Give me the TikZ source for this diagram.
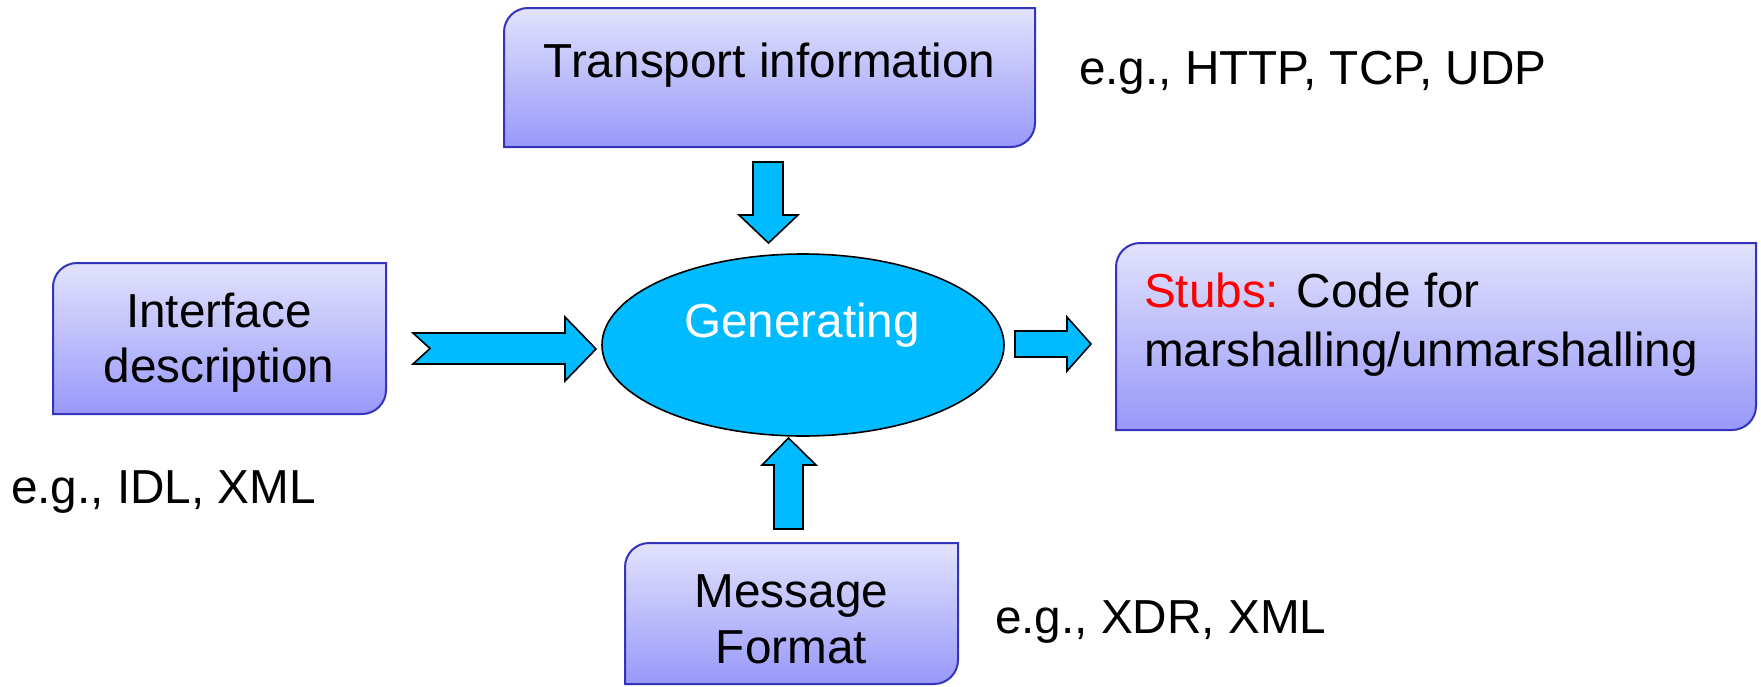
\documentclass[tikz,border=0pt]{standalone}
\usepackage{fontspec}
\setmainfont{Liberation Sans}
\usetikzlibrary{shapes.geometric}
\definecolor{boxtop}{RGB}{226,226,252}
\definecolor{boxbot}{RGB}{152,152,250}
\definecolor{boxline}{RGB}{51,51,187}
\definecolor{arrowfill}{RGB}{0,187,255}
\definecolor{stubred}{RGB}{255,0,0}
\tikzset{
  boxshape/.style={draw=boxline, line width=2pt, top color=boxtop, bottom color=boxbot},
  blockarrow/.style={draw=black, line width=1.6pt, fill=arrowfill, line join=miter},
  txt/.style={inner sep=0pt, outer sep=0pt, font=\fontsize{47.7}{57}\selectfont},
  frame/.style={draw=none, inner sep=0pt, outer sep=0pt, rectangle},
}
\newcommand\myroundbox[1]{%
  \path[boxshape] (#1.north east) -- ([xshift=24pt]#1.north west)
    arc[start angle=90,end angle=180,radius=24pt] -- (#1.south west)
    -- ([xshift=-24pt]#1.south east)
    arc[start angle=270,end angle=360,radius=24pt] -- cycle;}
\begin{document}
\begin{tikzpicture}[x=1pt,y=1pt]
\useasboundingbox (0,0) rectangle (1761,-686);
% box frames
\node[frame, minimum width=531pt, minimum height=139pt] (tr) at (769.5,-77.5) {};
\node[frame, minimum width=333pt, minimum height=151pt] (ifc) at (219.5,-338.5) {};
\node[frame, minimum width=640pt, minimum height=187pt] (stub) at (1436,-336.5) {};
\node[frame, minimum width=333pt, minimum height=141pt] (msg) at (791.5,-613.5) {};
\myroundbox{tr}
\myroundbox{ifc}
\myroundbox{stub}
\myroundbox{msg}
% ellipse
\node[ellipse, draw=black, line width=1.6pt, fill=arrowfill, minimum width=402pt, minimum height=182pt, inner sep=0pt] (gen) at (803,-345) {};
% texts
\node[txt, anchor=base] (trT) at (769.5,-77) {Transport information};
\node[txt, anchor=base west] (trE) at (1079,-84) {e.g., HTTP, TCP, UDP};
\node[txt, anchor=base] (ifT1) at (219,-327) {Interface};
\node[txt, anchor=base] (ifT2) at (219,-382) {description};
\node[txt, anchor=base west] (ifE) at (11,-503) {e.g., IDL, XML};
\node[txt, anchor=base, text=white] (genT) at (802,-337) {Generating};
\node[txt, anchor=base west] (stT1) at (1144,-307) {\textcolor{stubred}{Stubs:} Code for};
\node[txt, anchor=base west] (stT2) at (1144,-366) {marshalling/unmarshalling};
\node[txt, anchor=base] (msT1) at (791.5,-607) {Message};
\node[txt, anchor=base] (msT2) at (791.5,-663) {Format};
\node[txt, anchor=base west] (msE) at (995,-633) {e.g., XDR, XML};
% block arrows
\draw[blockarrow] (753,-162) -- (783,-162) -- (783,-215) -- (798,-215) -- (768.5,-243) -- (739,-215) -- (753,-215) -- cycle;
\draw[blockarrow] (413,-333) -- (565,-333) -- (565,-317) -- (596,-349) -- (565,-381) -- (565,-364) -- (413,-364) -- (430,-348.5) -- cycle;
\draw[blockarrow] (1015,-331) -- (1067,-331) -- (1067,-317) -- (1091,-344) -- (1067,-371) -- (1067,-357) -- (1015,-357) -- cycle;
\draw[blockarrow] (774,-529) -- (803,-529) -- (803,-465) -- (816,-465) -- (788.5,-438) -- (762,-465) -- (774,-465) -- cycle;
\end{tikzpicture}
\end{document}
